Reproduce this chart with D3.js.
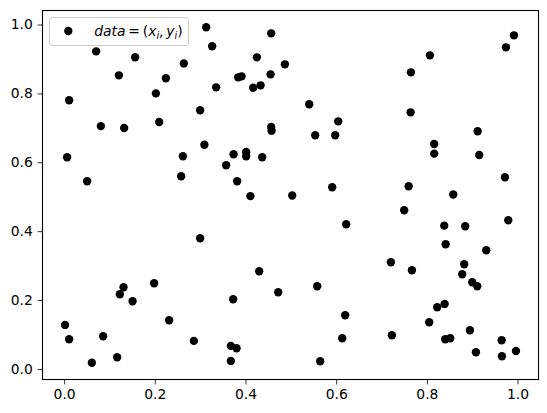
<!DOCTYPE html>
<html>
<head>
<meta charset="utf-8">
<script src="https://cdn.jsdelivr.net/npm/d3@7"></script>
<style>
  html, body { margin: 0; padding: 0; background: #fff; }
  svg { display: block; }
  text { font-family: "DejaVu Sans", sans-serif; }
</style>
</head>
<body>
<svg id="chart" width="547" height="413"></svg>
<script>
// ---- data ----
const xs = [
  0.011, 0.0706, 0.1566, 0.1207, 0.264, 0.2244, 0.2023, 0.3133, 0.3265, 0.081,
  0.1324, 0.2096, 0.300, 0.3093, 0.0066, 0.2619, 0.0507, 0.2581, 0.4567, 0.4251,
  0.4869, 0.3838, 0.3914, 0.4553, 0.3353, 0.4169, 0.4333, 0.5405, 0.6045, 0.4567,
  0.4575, 0.5537, 0.5978, 0.3737, 0.4015, 0.4015, 0.4368, 0.3574, 0.3816, 0.4108,
  0.503, 0.5912, 0.9921, 0.9744, 0.8067, 0.7648, 0.7642, 0.912, 0.8162, 0.8162,
  0.9155, 0.9722, 0.7598, 0.8582, 0.300, 0.1985, 0.131, 0.1229, 0.1509, 0.2316,
  0.002, 0.011, 0.086, 0.2861, 0.1169, 0.0611, 0.6221, 0.4302, 0.5581, 0.4721,
  0.3728, 0.6199, 0.6133, 0.3677, 0.3803, 0.3677, 0.5647, 0.75, 0.9795, 0.8383,
  0.8846, 0.8414, 0.931, 0.7207, 0.767, 0.8824, 0.878, 0.9001, 0.9111, 0.8392,
  0.8228, 0.8052, 0.7229, 0.895, 0.8405, 0.8515, 0.9649, 0.9965, 0.9082, 0.9656
];
const ys = [
  0.780, 0.922, 0.905, 0.8525, 0.887, 0.844, 0.800, 0.992, 0.937, 0.705,
  0.6996, 0.717, 0.751, 0.651, 0.6145, 0.6174, 0.5448, 0.5594, 0.9745, 0.9048,
  0.8845, 0.8467, 0.8496, 0.8554, 0.8177, 0.8165, 0.8235, 0.7684, 0.719, 0.7025,
  0.6917, 0.6784, 0.6784, 0.6232, 0.6299, 0.6174, 0.6145, 0.5913, 0.5448, 0.5016,
  0.5036, 0.5274, 0.9687, 0.9338, 0.9106, 0.8612, 0.7451, 0.690, 0.6531, 0.625,
  0.6212, 0.5565, 0.5303, 0.5065, 0.3794, 0.2488, 0.2372, 0.2168, 0.1965, 0.1414,
  0.1277, 0.0862, 0.0949, 0.0813, 0.034, 0.018, 0.42, 0.2836, 0.2401, 0.2226,
  0.2023, 0.1559, 0.0891, 0.0668, 0.0601, 0.0232, 0.0224, 0.4607, 0.4316, 0.416,
  0.4142, 0.362, 0.3446, 0.3097, 0.2865, 0.3039, 0.2749, 0.2517, 0.2401, 0.1887,
  0.1791, 0.1356, 0.0978, 0.1123, 0.0862, 0.0891, 0.0833, 0.0522, 0.0485, 0.0369
];
const xTicks = [0.0, 0.2, 0.4, 0.6, 0.8, 1.0];
const yTicks = [0.0, 0.2, 0.4, 0.6, 0.8, 1.0];

// ---- layout ----
const plotLeft = 42.5, plotTop = 10.5, plotW = 496, plotH = 369;
const svg = d3.select("#chart");

function padded(vals) {
  const [lo, hi] = d3.extent(vals);
  const m = (hi - lo) * 0.05;
  return [lo - m, hi + m];
}
const x = d3.scaleLinear().domain(padded(xs)).range([plotLeft, plotLeft + plotW]);
const y = d3.scaleLinear().domain(padded(ys)).range([plotTop + plotH, plotTop]);

const fontPx = 13.89;
const fmt = d3.format(".1f");

// axes
const xAxis = svg.append("g")
  .attr("transform", `translate(0,${plotTop + plotH})`)
  .call(d3.axisBottom(x).tickValues(xTicks).tickFormat(fmt).tickSize(4.86).tickPadding(4.86));
const yAxis = svg.append("g")
  .attr("transform", `translate(${plotLeft},0)`)
  .call(d3.axisLeft(y).tickValues(yTicks).tickFormat(fmt).tickSize(4.86).tickPadding(4.86));
[xAxis, yAxis].forEach(g => {
  g.select(".domain").remove();
  g.selectAll(".tick line").attr("stroke", "#000").attr("stroke-width", 0.8);
  g.selectAll(".tick text").attr("fill", "#000")
    .style("font-family", "'DejaVu Sans', sans-serif").style("font-size", fontPx + "px");
});

// points
svg.append("g").selectAll("circle")
  .data(xs.map((v, i) => [v, ys[i]]))
  .join("circle")
  .attr("cx", d => x(d[0]))
  .attr("cy", d => y(d[1]))
  .attr("r", 4.17)
  .attr("fill", "#000");

// frame
svg.append("rect")
  .attr("x", plotLeft).attr("y", plotTop).attr("width", plotW).attr("height", plotH)
  .attr("fill", "none").attr("stroke", "#000").attr("stroke-width", 1.1);

// legend
const lg = svg.append("g");
lg.append("rect")
  .attr("x", 49.5).attr("y", 17.5).attr("width", 139).attr("height", 28)
  .attr("rx", 2.8).attr("ry", 2.8)
  .attr("fill", "#fff").attr("fill-opacity", 0.8)
  .attr("stroke", "#cccccc").attr("stroke-width", 1);
lg.append("circle").attr("cx", 68.3).attr("cy", 31).attr("r", 4.17).attr("fill", "#000");
const t = lg.append("text")
  .attr("x", 94.3).attr("y", 36)
  .style("font-size", fontPx + "px")
  .attr("fill", "#000");
t.append("tspan").attr("font-style", "italic").text("data");
t.append("tspan").text("\u2009=\u2009(");
t.append("tspan").attr("font-style", "italic").text("x");
t.append("tspan").attr("font-style", "italic").attr("font-size", "9.7px").attr("dy", 2.6).text("i");
t.append("tspan").attr("dy", -2.6).text(",\u2009");
t.append("tspan").attr("font-style", "italic").text("y");
t.append("tspan").attr("font-style", "italic").attr("font-size", "9.7px").attr("dy", 2.6).text("i");
t.append("tspan").attr("dy", -2.6).text(")");
</script>
</body>
</html>
